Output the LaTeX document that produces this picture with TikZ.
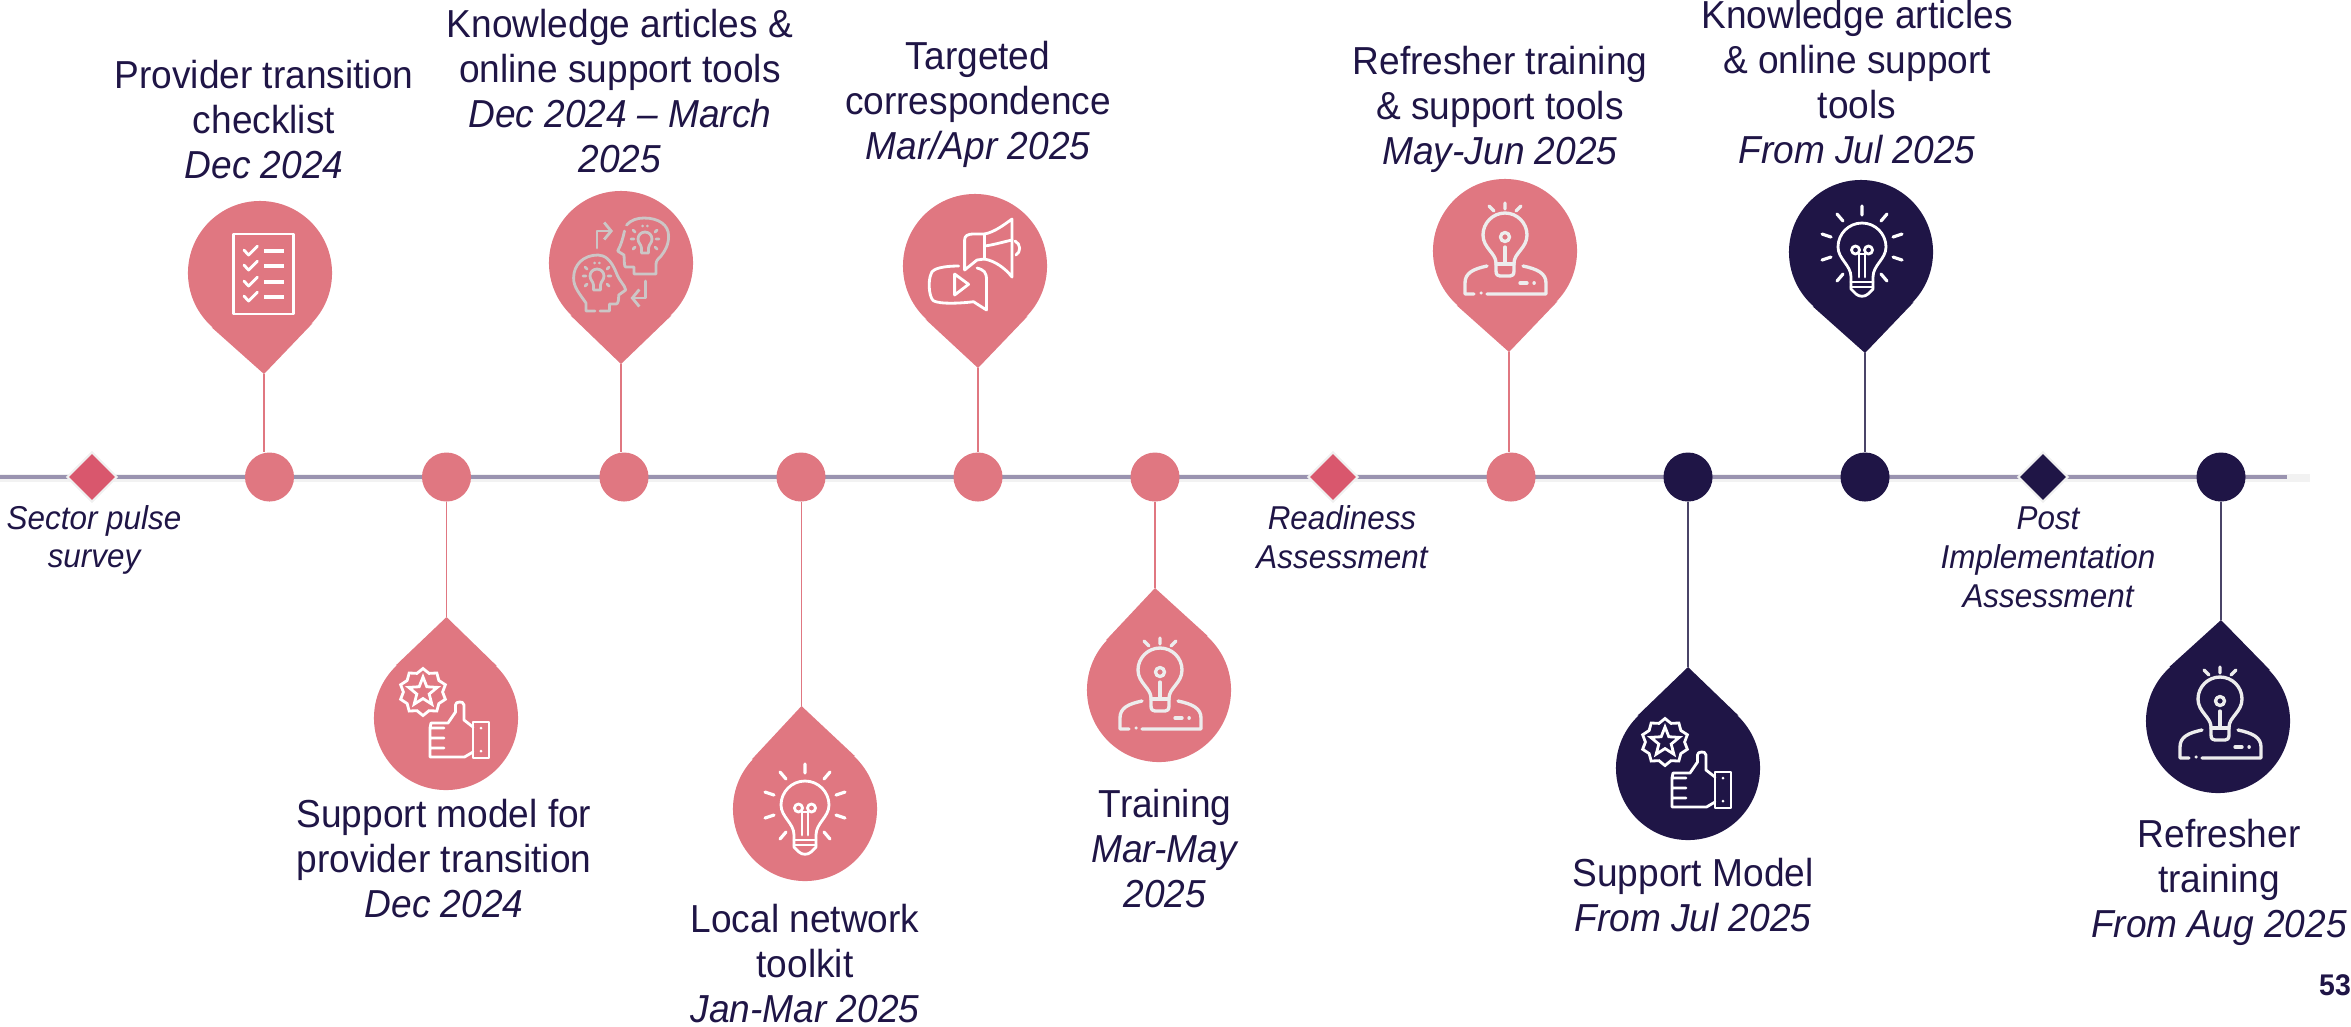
\documentclass[tikz,border=0pt]{standalone}
\usepackage{xcolor}
\usepackage{fontspec}
\setmainfont[FakeStretch=0.95]{Liberation Sans}
\usepackage{tikz}
\usetikzlibrary{arrows.meta,calc,shapes.geometric}

\definecolor{rosefill}{HTML}{E07781}
\definecolor{rosedark}{HTML}{D9576D}
\definecolor{navyfill}{HTML}{1F1546}
\definecolor{navystem}{HTML}{4A4468}
\definecolor{linegrey}{HTML}{9A93B0}
\definecolor{headgrey}{HTML}{CCC6C6}

\newcommand{\pinwedge}[3]{\fill[#1] (#3) -- (tangent cs:node=#2,point={(#3)},solution=1) -- (tangent cs:node=#2,point={(#3)},solution=2) -- cycle;}

\tikzset{
icon/.style={line width=0.8pt,line cap=round,line join=round},
checklist/.pic={
  \draw[icon,white] (-30,-40) rectangle (30,40);
  \draw[icon,white] (-19.5,-24) -- (-15,-19) -- (-6,-28);
  \draw[icon,white] (-19.5,-9) -- (-15,-4) -- (-6,-13);
  \draw[icon,white] (-19.5,7) -- (-15,12) -- (-6,3);
  \draw[icon,white] (-19.5,22) -- (-15,27) -- (-6,18);
  \draw[white,line width=0.9pt] (0.5,-23) -- (20.5,-23) (0.5,-8) -- (20.5,-8) (0.5,8) -- (20.5,8) (0.5,23) -- (20.5,23);
},
minibulb/.pic={
  \draw[icon,headgrey] (-3.5,7) .. controls (-4,3) and (-7,2) .. (-7,-2) arc (180:360:7) .. controls (7,2) and (4,3) .. (3.5,7) -- (3.5,12) -- (-3.5,12) -- cycle;
  \draw[icon,headgrey] (-14,-2) -- (-11,-2) (11,-2) -- (14,-2) (-12,-11) -- (-10,-9) (12,-11) -- (10,-9)
    (-12,8) -- (-10,6) (12,8) -- (10,6) (-2.5,-15) -- (-2.2,-15) (2.5,-15) -- (2.2,-15);
},
headsicon/.pic={
  \draw[icon,headgrey] (5.5,-38) .. controls (10,-43) and (16,-45) .. (23,-45) .. controls (38,-45) and (47.6,-38) .. (47.6,-27) .. controls (47.6,-18) and (44,-12) .. (40,-7) .. controls (36,-3) and (35,-2) .. (35,2) -- (35,11) -- (13,11) -- (13,4) -- (5,4) .. controls (3,4) and (3.5,0) .. (3,-8) -- (-3.3,-12) .. controls (0,-18) and (2,-25) .. (3.5,-32);
  \draw[icon,headgrey] (-23,-8) .. controls (-38,-8) and (-47.4,2) .. (-47.4,15) .. controls (-47.4,24) and (-42,30) .. (-35,40) -- (-35,48) -- (-26,48) (-21,48) -- (-11.5,48) -- (-11.5,41) -- (-5,41) .. controls (-2.5,41) and (-2.3,36) .. (-2.3,32) -- (4.7,27) .. controls (4,22) and (-2,18) .. (-5,9) .. controls (-10,-3) and (-16,-8) .. (-23,-8);
  \pic at (24,-22) {minibulb};
  \pic at (-24,15) {minibulb};
  \draw[icon,headgrey,-{Straight Barb[length=0.7mm,width=1.7mm]}] (-24,-15) -- (-24,-32) -- (-8,-32);
  \draw[icon,headgrey,-{Straight Barb[length=0.7mm,width=1.7mm]}] (24.6,18) -- (24.6,35) -- (9.5,35);
},
megaphone/.pic={
  \draw[icon,white] (9.5,-32) .. controls (20,-34) and (30,-42) .. (37,-47) -- (37,11) .. controls (30,2) and (20,-5) .. (9.5,-7) -- cycle;
  \draw[icon,white] (9.5,-20) .. controls (18,-21) and (28,-24) .. (37,-26);
  \draw[icon,white] (9.5,-32) -- (-1,-32) .. controls (-8,-32) and (-10.4,-30) .. (-10.4,-26) -- (-10.4,4) -- (2,-6) -- (9.5,-7);
  \draw[icon,white] (40,-25) .. controls (46,-22) and (46,-14) .. (41,-11);
  \draw[icon,white] (-16.4,0) .. controls (-30,0) and (-43,2) .. (-44,8) .. controls (-47,15) and (-46,28) .. (-43,33) .. controls (-42,38) and (-20,38) .. (-1.5,35.7) -- (11.5,44) -- (11.5,14) .. controls (11.5,6) and (9,4) .. (2,2);
  \draw[icon,white] (-20.4,8) -- (-6.4,18.3) -- (-20.4,29) -- cycle;
},
bulbrays/.pic={
  \draw[icon,white,line width=0.9pt] (0,-41) -- (0,-32) (-25,-33) -- (-19,-26) (25,-33) -- (19,-26)
    (-40,-13) -- (-31,-10) (40,-13) -- (31,-10) (-40,13) -- (-31,10) (40,13) -- (31,10)
    (-25,34) -- (-19,27) (25,34) -- (19,27);
  \draw[icon,white] (-11,30) .. controls (-11,18) and (-24,12) .. (-24,0) arc (180:360:24) .. controls (24,12) and (11,18) .. (11,30) -- (11,42) -- (6,47) .. controls (3,50) and (-3,50) .. (-6,47) -- (-11,42) -- cycle;
  \draw[icon,white] (-11,35) -- (11,35) (-11,40) -- (11,40);
  \draw[icon,white] (-3,30) -- (-3,7) (3,30) -- (3,7) (-3,7) -- (3,7);
  \draw[icon,white] (-6.5,3) circle (4) (6.5,3) circle (4);
},
bulbperson/.pic={
  \draw[icon,white!93!black,line width=0.95pt] (-9,12) .. controls (-9,2) and (-22,-3) .. (-22,-16) arc (180:360:22) .. controls (22,-3) and (9,2) .. (9,12) -- (9,20) .. controls (9,24) and (7,25) .. (5,25) -- (-5,25) .. controls (-7,25) and (-9,24) .. (-9,20) -- cycle;
  \draw[icon,white!93!black,line width=0.95pt] (-9,13) -- (9,13) (0,13) -- (0,-4);
  \draw[icon,white!93!black,line width=0.95pt] (0,-14) circle (4.5);
  \draw[icon,white!93!black,line width=0.95pt] (0,-48) -- (0,-42) (-16,-45) -- (-11,-40) (16,-45) -- (11,-40);
  \draw[icon,white!93!black,line width=0.95pt] (-18,15) .. controls (-32,18) and (-40,22) .. (-40,32) -- (-40,43) -- (-31,43) (-24,42) -- (-23.8,42) (-18,43) -- (41,43) -- (41,32) .. controls (41,22) and (32,18) .. (18,15);
  \draw[icon,white!93!black,line width=0.95pt] (15,32) -- (22,32) (29,32) -- (29.2,32);
},
supporticon/.pic={
  \node[cogstar] (cog) at (-23,-26) {};
  \node[cogmark] (mark) at (-23,-26) {};
  \draw[icon,white] (27,4) rectangle (43,40);
  \fill[white] (35,10) circle (1.5) (35,33) circle (1.5);
  \draw[icon,white] (27,9) -- (18,2) -- (18,-13) .. controls (18,-16) and (15,-16) .. (13.5,-16) .. controls (11,-16) and (9.5,-15) .. (9.5,-13) -- (9.5,-6) -- (2,5) -- (-15,5) -- (-16,10) -- (-2,10) (-16,10) -- (-16,20) -- (-2,20) (-16,20) -- (-16,30) -- (-2,30) (-16,30) -- (-16,39) -- (18.5,39) -- (27,34);
},
cogstar/.style={star,star points=10,star point ratio=1.2,draw=white,line width=0.8pt,inner sep=0pt,minimum size=0.47cm},
cogmark/.style={star,star points=5,star point ratio=2.3,draw=white,line width=0.8pt,inner sep=0pt,minimum size=0.3cm},
}

\begin{document}
\begin{tikzpicture}[x=0.01cm,y=-0.01cm,
rosehead/.style={circle,fill=rosefill,inner sep=0pt,minimum size=1.44cm},
navyhead/.style={circle,fill=navyfill,inner sep=0pt,minimum size=1.44cm},
rosedot/.style={circle,fill=rosefill,inner sep=0pt,minimum size=0.49cm},
navydot/.style={circle,fill=navyfill,inner sep=0pt,minimum size=0.49cm},
rosediam/.style={diamond,aspect=1,fill=rosedark,draw=black!6,line width=0.6pt,inner sep=0pt,minimum size=0.5cm},
navydiam/.style={diamond,aspect=1,fill=navyfill,draw=black!6,line width=0.6pt,inner sep=0pt,minimum size=0.5cm},
rosestem/.style={draw=rosefill,line width=0.45pt},
navystem/.style={draw=navystem,line width=0.45pt},
caption/.style={align=center,text=navyfill,inner sep=0pt,font=\fontsize{11.1}{12.8}\selectfont},
smallcap/.style={align=center,text=navyfill,inner sep=0pt,font=\fontsize{9.4}{11.05}\selectfont\itshape}]
\useasboundingbox (0,0) rectangle (2351,1026);

% timeline
\coordinate (start) at (0,477);
\coordinate (stop) at (2287,477);
\coordinate (shade) at (2310,478);
\draw[black!5,line width=2.2pt] (start |- shade) -- (shade);
\draw[linegrey,line width=1.1pt] (start) -- (stop);

\node[rosedot] (d1) at (269.5,477) {};
\node[rosedot] (d2) at (446.5,477) {};
\node[rosedot] (d3) at (624,477) {};
\node[rosedot] (d4) at (801,477) {};
\node[rosedot] (d5) at (978,477) {};
\node[rosedot] (d6) at (1155,477) {};
\node[rosedot] (d7) at (1511,477) {};
\node[navydot] (d8) at (1688,477) {};
\node[navydot] (d9) at (1865,477) {};
\node[navydot] (d10) at (2221,477) {};
\node[rosediam] (m1) at (92,477) {};
\node[rosediam] (m2) at (1333,477) {};
\node[navydiam] (m3) at (2043,477) {};

% pins above the line
\node[rosehead] (p1) at (260,273) {};
\coordinate (t1) at (264,374);
\node[rosehead] (p3) at (621,263) {};
\coordinate (t3) at (621,364);
\node[rosehead] (p5) at (975,266) {};
\coordinate (t5) at (978,368);
\node[rosehead] (p7) at (1505,251) {};
\coordinate (t7) at (1509,352);
\node[navyhead] (p9) at (1861,252) {};
\coordinate (t9) at (1865,353);
\pinwedge{rosefill}{p1}{t1}
\pinwedge{rosefill}{p3}{t3}
\pinwedge{rosefill}{p5}{t5}
\pinwedge{rosefill}{p7}{t7}
\pinwedge{navyfill}{p9}{t9}
\draw[rosestem] (t1) -- (t1 |- d1.north);
\draw[rosestem] (t3) -- (t3 |- d3.north);
\draw[rosestem] (t5) -- (t5 |- d5.north);
\draw[rosestem] (t7) -- (t7 |- d7.north);
\draw[navystem] (t9) -- (t9 |- d9.north);

% pins below the line
\node[rosehead] (p2) at (446,718) {};
\coordinate (t2) at (446.5,617);
\node[rosehead] (p4) at (805,809) {};
\coordinate (t4) at (801.5,706);
\node[rosehead] (p6) at (1159,690) {};
\coordinate (t6) at (1155,588);
\node[navyhead] (p8) at (1688,768) {};
\coordinate (t8) at (1688,667);
\node[navyhead] (p10) at (2218,721) {};
\coordinate (t10) at (2221,620);
\pinwedge{rosefill}{p2}{t2}
\pinwedge{rosefill}{p4}{t4}
\pinwedge{rosefill}{p6}{t6}
\pinwedge{navyfill}{p8}{t8}
\pinwedge{navyfill}{p10}{t10}
\draw[rosestem] (t2 |- d2.south) -- (t2);
\draw[rosestem] (t4 |- d4.south) -- (t4);
\draw[rosestem] (t6 |- d6.south) -- (t6);
\draw[navystem] (t8 |- d8.south) -- (t8);
\draw[navystem] (t10 |- d10.south) -- (t10);

% icons
\pic at (263.5,274) {checklist};
\pic at (621,263) {headsicon};
\pic at (975,266) {megaphone};
\pic at (1505,251) {bulbperson};
\pic at (1862,247) {bulbrays};
\pic (ic2) at (446,718) {supporticon};
\pic at (805,805) {bulbrays};
\pic at (1160,686) {bulbperson};
\pic (ic8) at (1688,768) {supporticon};
\pic at (2220,715) {bulbperson};

% captions
\node[caption] (c1) at (264,120) {Provider transition\\checklist\\\textit{Dec 2024}};
\node[caption] (c3) at (620,91) {Knowledge articles \&\\online support tools\\\textit{Dec 2024 -- March}\\\textit{2025}};
\node[caption] (c5) at (978,104.5) {Targeted\\correspondence\\\textit{Mar/Apr 2025}};
\node[caption] (c7) at (1500,109.5) {Refresher training\\\& support tools\\\textit{May-Jun 2025}};
\node[caption] (c9) at (1857,82) {Knowledge articles\\\& online support\\tools\\\textit{From Jul 2025}};
\node[caption] (c2) at (444,859) {Support model for\\provider transition\\\textit{Dec 2024}};
\node[caption] (c4) at (805,964) {Local network\\toolkit\\\textit{Jan-Mar 2025}};
\node[caption] (c6) at (1165,849) {Training\\\textit{Mar-May}\\\textit{2025}};
\node[caption] (c8) at (1693,895) {Support Model\\\textit{From Jul 2025}};
\node[caption] (c10) at (2219,882) {Refresher\\training\\\textit{From Aug 2025}};
\node[smallcap] (s1) at (94,540) {Sector pulse\\survey};
\node[smallcap] (s2) at (1342,537) {Readiness\\Assessment};
\node[smallcap] (s3) at (2048,557) {Post\\Implementation\\Assessment};
\node[text=navyfill,inner sep=0pt,font=\fontsize{8.5}{10}\selectfont\bfseries] (page) at (2335,985) {53};
\end{tikzpicture}
\end{document}
